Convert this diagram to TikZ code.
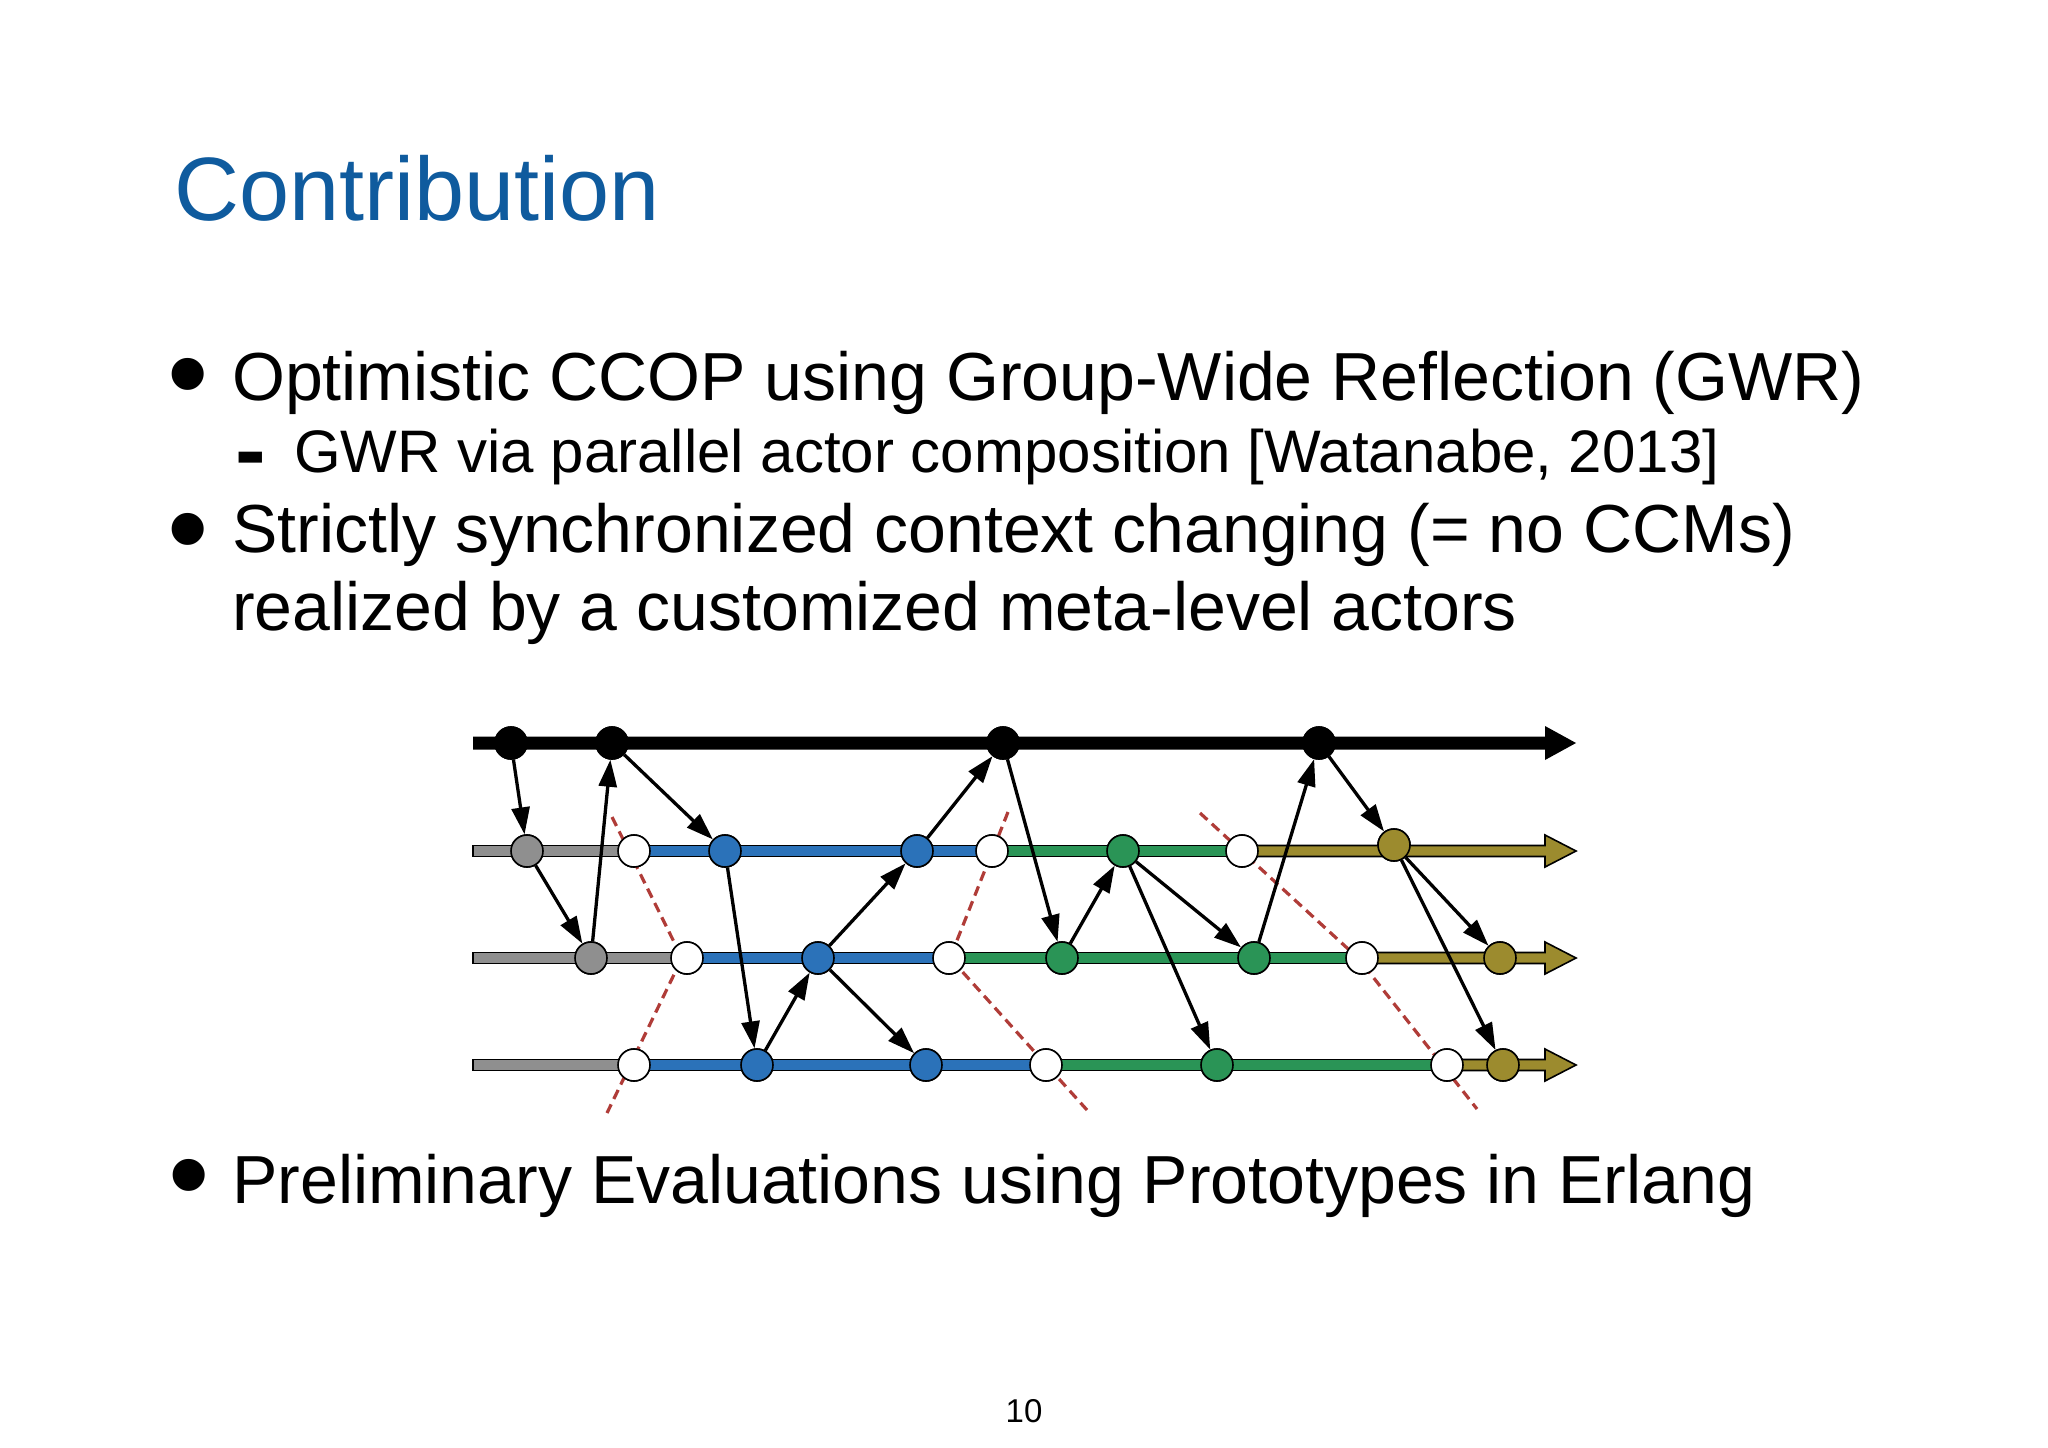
\documentclass[tikz,border=0pt]{standalone}
\usepackage{fontspec}
\setmainfont{Liberation Sans}
\usetikzlibrary{arrows.meta}
\definecolor{titlec}{HTML}{0F5B9E}
\definecolor{grayc}{HTML}{8F8F8F}
\definecolor{bluec}{HTML}{2B72B9}
\definecolor{greenc}{HTML}{2A9456}
\definecolor{olivec}{HTML}{9C8B2E}
\definecolor{redc}{HTML}{B03C38}
\tikzset{
  ev/.style={circle, draw=black, line width=1.6pt, minimum size=32pt, inner sep=0pt},
  evK/.style={ev, fill=black},
  evG/.style={ev, fill=grayc},
  evB/.style={ev, fill=bluec},
  evN/.style={ev, fill=greenc},
  evO/.style={ev, fill=olivec},
  evW/.style={ev, fill=white},
  msg/.style={-{Triangle[length=27pt,width=18pt]}, line width=3.3pt, draw=black},
  cutline/.style={draw=redc, line width=3.2pt, dash pattern=on 10pt off 6pt},
  lifeseg/.style={draw=black, line width=1.6pt},
  body/.style={anchor=base west, inner sep=0pt, font=\fontsize{68}{80}\selectfont},
  subtext/.style={anchor=base west, inner sep=0pt, font=\fontsize{60}{70}\selectfont},
  bul/.style={inner sep=0pt, font=\fontsize{118}{118}\selectfont}
}
\begin{document}
\begin{tikzpicture}[x=1pt,y=-1pt]
\useasboundingbox (0,0) rectangle (2048,1448);
\fill[white] (0,0) rectangle (2048,1448);

% ---- text ----
\node[anchor=base west, inner sep=0pt, text=titlec, font=\fontsize{90}{100}\selectfont] (title) at (174,220) {Contribution};
\node[bul] (bu1) at (188,386) {•};
\node[body] (l1) at (232,400) {Optimistic CCOP using Group-Wide Reflection (GWR)};
\node[anchor=base west, inner sep=0pt, font=\bfseries\fontsize{92}{92}\selectfont] (dash) at (235,481) {-};
\node[subtext] (l2) at (294,472) {GWR via parallel actor composition [Watanabe, 2013]};
\node[bul] (bu2) at (188,541) {•};
\node[body] (l3) at (232,552) {Strictly synchronized context changing (= no CCMs)};
\node[body] (l4) at (232,630) {realized by a customized meta-level actors};
\node[bul] (bu3) at (189,1187) {•};
\node[body] (l5) at (232,1203) {Preliminary Evaluations using Prototypes in Erlang};
\node[anchor=base, inner sep=0pt, font=\fontsize{33}{40}\selectfont] (pg) at (1024,1422) {10};

% ---- event nodes (named, used by cut lines and messages) ----
\path
  (511,743) node[evK] (B1) {}
  (612,743) node[evK] (B2) {}
  (1003,743) node[evK] (B3) {}
  (1319,743) node[evK] (B4) {};
\path
  (527,851) node[evG] (g2) {}
  (634,851) node[evW] (w2a) {}
  (725,851) node[evB] (b2a) {}
  (917,851) node[evB] (b2b) {}
  (992,851) node[evW] (w2b) {}
  (1123,851) node[evN] (n2) {}
  (1242,851) node[evW] (w2c) {}
  (1394,845) node[evO] (o2) {};
\path
  (591,958) node[evG] (g3) {}
  (687,958) node[evW] (w3a) {}
  (818,958) node[evB] (b3) {}
  (949,958) node[evW] (w3b) {}
  (1062,958) node[evN] (n3a) {}
  (1254,958) node[evN] (n3b) {}
  (1362,958) node[evW] (w3c) {}
  (1500,958) node[evO] (o3) {};
\path
  (634,1065) node[evW] (w4a) {}
  (757,1065) node[evB] (b4a) {}
  (926,1065) node[evB] (b4b) {}
  (1046,1065) node[evW] (w4b) {}
  (1217,1065) node[evN] (n4) {}
  (1447,1065) node[evW] (w4c) {}
  (1503,1065) node[evO] (o4) {};

\coordinate (c1t) at (612,817);
\coordinate (c1k) at (682,958);
\coordinate (c1b) at (607,1113);
\coordinate (c2t) at (1008,812);
\coordinate (c2k) at (950,958);
\coordinate (c2b) at (1087,1110);
\coordinate (c3t) at (1200,813);
\coordinate (c3k) at (1358,958);
\coordinate (c3b) at (1477,1109);

% ---- cut lines and bars (behind) ----
\draw[cutline] (c1t) -- (c1k) -- (c1b);
\draw[cutline] (c2t) -- (c2k) -- (c2b);
\draw[cutline] (c3t) -- (c3k) -- (c3b);

% top (meta-level) line
\fill[black] (473,736.5) -- (1545,736.5) -- (1545,726) -- (1576,743) -- (1545,760) -- (1545,749.5) -- (473,749.5) -- cycle;

% row 2
\filldraw[lifeseg, fill=grayc] (473,845.5) rectangle (634,856.5);
\filldraw[lifeseg, fill=bluec] (634,845.5) rectangle (992,856.5);
\filldraw[lifeseg, fill=greenc] (992,845.5) rectangle (1242,856.5);
\filldraw[lifeseg, fill=olivec] (1242,845.5) -- (1545,845.5) -- (1545,835) -- (1576,851) -- (1545,867) -- (1545,856.5) -- (1242,856.5) -- cycle;
% row 3
\filldraw[lifeseg, fill=grayc] (473,952.5) rectangle (687,963.5);
\filldraw[lifeseg, fill=bluec] (687,952.5) rectangle (949,963.5);
\filldraw[lifeseg, fill=greenc] (949,952.5) rectangle (1362,963.5);
\filldraw[lifeseg, fill=olivec] (1362,952.5) -- (1545,952.5) -- (1545,942) -- (1576,958) -- (1545,974) -- (1545,963.5) -- (1362,963.5) -- cycle;
% row 4
\filldraw[lifeseg, fill=grayc] (473,1059.5) rectangle (634,1070.5);
\filldraw[lifeseg, fill=bluec] (634,1059.5) rectangle (1046,1070.5);
\filldraw[lifeseg, fill=greenc] (1046,1059.5) rectangle (1447,1070.5);
\filldraw[lifeseg, fill=olivec] (1447,1059.5) -- (1545,1059.5) -- (1545,1049) -- (1576,1065) -- (1545,1081) -- (1545,1070.5) -- (1447,1070.5) -- cycle;

% ---- event circles drawn again on top of bars ----
\foreach \n in {B1,B2,B3,B4}{\node[evK] at (\n.center) {};}
\foreach \n in {g2,g3}{\node[evG] at (\n.center) {};}
\foreach \n in {b2a,b2b,b3,b4a,b4b}{\node[evB] at (\n.center) {};}
\foreach \n in {n2,n3a,n3b,n4}{\node[evN] at (\n.center) {};}
\foreach \n in {o2,o3,o4}{\node[evO] at (\n.center) {};}
\foreach \n in {w2a,w2b,w2c,w3a,w3b,w3c,w4a,w4b,w4c}{\node[evW] at (\n.center) {};}

% ---- messages ----
\draw[msg] (B1) -- (g2);
\draw[msg] (g2) -- (g3);
\draw[msg] (g3) -- (B2);
\draw[msg] (B2) -- (b2a);
\draw[msg] (b2a) -- (b4a);
\draw[msg] (b4a) -- (b3);
\draw[msg] (b3) -- (b2b);
\draw[msg] (b3) -- (b4b);
\draw[msg] (b2b) -- (B3);
\draw[msg] (B3) -- (n3a);
\draw[msg] (n3a) -- (n2);
\draw[msg] (n2) -- (n3b);
\draw[msg] (n2) -- (n4);
\draw[msg] (n3b) -- (B4);
\draw[msg] (B4) -- (o2);
\draw[msg] (o2) -- (o3);
\draw[msg] (o2) -- (o4);
\end{tikzpicture}
\end{document}
